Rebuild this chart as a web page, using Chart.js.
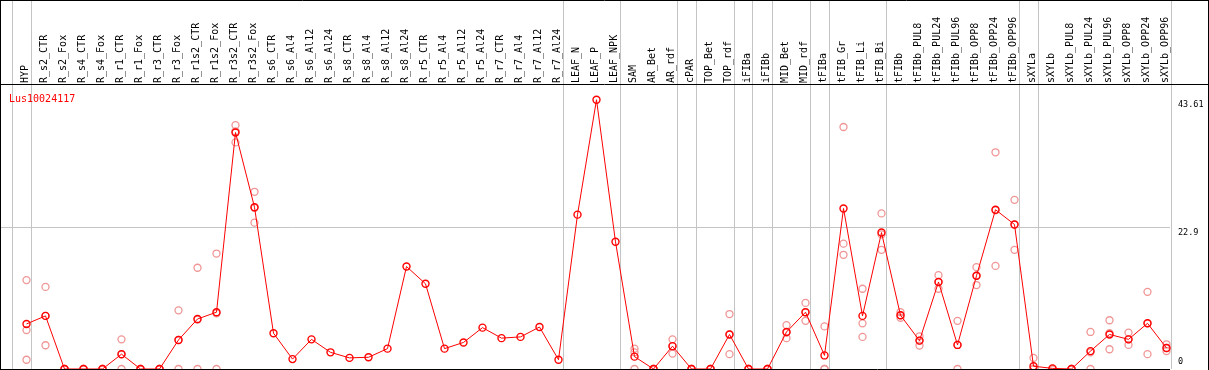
<!DOCTYPE html>
<html>
<head>
<meta charset="utf-8">
<script src="https://cdn.jsdelivr.net/npm/chart.js@4/dist/chart.umd.min.js"></script>
<style>
  html, body { margin: 0; padding: 0; background: #fff; }
  #wrap { width: 1209px; height: 370px; position: relative; }
</style>
</head>
<body>
<div id="wrap"><canvas id="c" width="1209" height="370"></canvas></div>
<script>
const chartTitle = 'Lus10024117';

const categories = [
  'HYP','R_s2_CTR','R_s2_Fox','R_s4_CTR','R_s4_Fox','R_r1_CTR','R_r1_Fox','R_r3_CTR','R_r3_Fox',
  'R_r1s2_CTR','R_r1s2_Fox','R_r3s2_CTR','R_r3s2_Fox','R_s6_CTR','R_s6_Al4','R_s6_Al12','R_s6_Al24',
  'R_s8_CTR','R_s8_Al4','R_s8_Al12','R_s8_Al24','R_r5_CTR','R_r5_Al4','R_r5_Al12','R_r5_Al24',
  'R_r7_CTR','R_r7_Al4','R_r7_Al12','R_r7_Al24','LEAF_N','LEAF_P','LEAF_NPK','SAM','AR_Bet','AR_rdf',
  'cPAR','TOP_Bet','TOP_rdf','iFIBa','iFIBb','MID_Bet','MID_rdf','tFIBa','tFIB_Gr','tFIB_Li','tFIB_Bi',
  'tFIBb','tFIBb_PUL8','tFIBb_PUL24','tFIBb_PUL96','tFIBb_OPP8','tFIBb_OPP24','tFIBb_OPP96',
  'sXYLa','sXYLb','sXYLb_PUL8','sXYLb_PUL24','sXYLb_PUL96','sXYLb_OPP8','sXYLb_OPP24','sXYLb_OPP96'
];

// index of the last category of each group (-1 = before the first one)
const groupEnds = [-1, 0, 28, 31, 34, 35, 37, 38, 39, 41, 42, 45, 52, 53, 60];

const meanValues = [
  7.3, 8.6, 0, 0, 0, 2.4, 0, 0, 4.7,
  8.1, 9.2, 38.3, 26.2, 5.8, 1.6, 4.8, 2.7,
  1.8, 1.9, 3.3, 16.6, 13.8, 3.3, 4.3, 6.7,
  5.0, 5.2, 6.8, 1.5, 25.0, 43.61, 20.6, 2.0, 0, 3.7,
  0, 0, 5.6, 0, 0, 6.0, 9.2, 2.2, 26.0, 8.6, 22.1,
  8.7, 4.6, 14.1, 3.9, 15.1, 25.8, 23.4,
  0.45, 0.1, 0, 2.9, 5.6, 4.8, 7.4, 3.4
];

const rep1 = [
  14.4, 13.3, 0, 0, 0, 4.8, 0, 0, 9.5,
  16.4, 18.7, 39.5, 28.7, null, null, null, null,
  null, null, null, null, null, null, null, null,
  null, null, null, null, null, null, null, 3.3, 0, 4.8,
  0, 0, 8.9, 0, 0, 7.1, 10.7, 6.9, 39.2, 13.0, 25.2,
  9.2, 5.3, 15.2, 7.8, 16.5, 35.1, 27.4,
  1.8, 0, 0, 6.0, 7.9, 5.9, 12.5, 4.0
];
const rep2 = [
  6.3, 3.85, 0, 0, 0, 0, 0, 0, 0,
  0, 0, 36.7, 23.7, null, null, null, null,
  null, null, null, null, null, null, null, null,
  null, null, null, null, null, null, null, 2.7, 0, 2.5,
  0, 0, 2.4, 0, 0, 5.0, 7.8, 0, 20.3, 7.4, 19.3,
  8.7, 3.8, 13.0, 0, 13.6, 16.7, 19.3,
  0, 0, 0, 0, 3.2, 3.9, 2.4, 2.9
];
const rep3 = [
  1.5, 8.6, 0, 0, 0, 2.4, 0, 0, 4.7,
  8.0, 9.0, 38.5, 26.1, null, null, null, null,
  null, null, null, null, null, null, null, null,
  null, null, null, null, null, null, null, 0, 0, 3.7,
  0, 0, 5.6, 0, 0, 5.9, 9.2, 0, 18.5, 5.2, 21.8,
  8.3, 4.6, 14.1, 3.9, 15.1, 25.7, 23.4,
  0, 0, 0, 2.7, 5.8, 4.8, 7.4, 3.4
];

const yTickValues = [0, 22.9, 43.61];

const MONO = "'DejaVu Sans Mono', 'Liberation Mono', monospace";
const RED = '#ff0000';
const PINK = '#f09595';
const GRID = '#c4c4c4';

const toPoints = arr => arr.map((v, i) => ({ x: i, y: v }));

const repDataset = (arr) => ({
  data: toPoints(arr),
  showLine: false,
  borderColor: PINK,
  backgroundColor: 'rgba(0,0,0,0)',
  pointRadius: 3.5,
  pointBorderWidth: 1.3,
  pointHoverRadius: 3.5,
  order: 2,
  clip: false
});

const framePlugin = {
  id: 'frame',
  beforeDatasetsDraw(chart) {
    const { ctx, chartArea: a, scales: { x } } = chart;
    ctx.save();
    ctx.strokeStyle = GRID;
    ctx.lineWidth = 1;
    groupEnds.forEach(i => {
      const px = Math.round(x.getPixelForValue(i) + 4) + 0.5;
      ctx.beginPath();
      ctx.moveTo(px, 0);
      ctx.lineTo(px, a.bottom);
      ctx.stroke();
    });
    ctx.restore();
  },
  afterDraw(chart) {
    const { ctx, chartArea: a, scales: { y }, width, height } = chart;
    ctx.save();
    ctx.strokeStyle = '#000';
    ctx.lineWidth = 1;
    ctx.beginPath();
    ctx.moveTo(0, 0.5); ctx.lineTo(width, 0.5);
    ctx.moveTo(0.5, 0); ctx.lineTo(0.5, height);
    ctx.moveTo(width - 0.5, 0); ctx.lineTo(width - 0.5, height);
    ctx.moveTo(0, a.top - 0.5); ctx.lineTo(width, a.top - 0.5);
    ctx.moveTo(0, a.bottom + 0.5); ctx.lineTo(a.right, a.bottom + 0.5);
    ctx.stroke();

    // title inside the plot
    ctx.fillStyle = RED;
    ctx.font = '10px ' + MONO;
    ctx.textAlign = 'left';
    ctx.textBaseline = 'alphabetic';
    ctx.fillText(chartTitle, a.left + 9, a.top + 17);

    // right axis labels
    ctx.fillStyle = '#000';
    ctx.font = '8.5px ' + MONO;
    ctx.textBaseline = 'middle';
    yTickValues.forEach(v => {
      const py = Math.min(y.getPixelForValue(v) + 5, a.bottom - 7);
      ctx.fillText(String(v), a.right + 8, py);
    });
    ctx.restore();
  }
};

new Chart(document.getElementById('c'), {
  type: 'scatter',
  data: {
    datasets: [
      {
        data: toPoints(meanValues),
        showLine: true,
        borderColor: RED,
        borderWidth: 1,
        backgroundColor: 'rgba(0,0,0,0)',
        pointBorderColor: RED,
        pointRadius: 3.5,
        pointBorderWidth: 1.4,
        pointHoverRadius: 3.5,
        tension: 0,
        order: 1,
        clip: false
      },
      repDataset(rep1),
      repDataset(rep2),
      repDataset(rep3)
    ]
  },
  options: {
    responsive: false,
    animation: false,
    devicePixelRatio: 1,
    layout: { autoPadding: false, padding: { left: 0, right: 0, top: 0, bottom: 1 } },
    plugins: { legend: { display: false }, title: { display: false }, tooltip: { enabled: false } },
    events: [],
    scales: {
      x: {
        type: 'linear',
        position: 'top',
        min: -26.5 / 19,
        max: (1170 - 26.5) / 19,
        afterBuildTicks: s => { s.ticks = categories.map((c, i) => ({ value: i })); },
        afterFit: s => { s.height = 85; },
        grid: { display: false, drawTicks: false },
        border: { display: false },
        ticks: {
          autoSkip: false,
          minRotation: 90,
          maxRotation: 90,
          padding: 2,
          labelOffset: 11,
          color: '#000',
          font: { family: MONO, size: 10 },
          callback: (v) => categories[v]
        }
      },
      y: {
        type: 'linear',
        position: 'right',
        min: 0,
        max: 46,
        afterBuildTicks: s => { s.ticks = yTickValues.map(v => ({ value: v })); },
        afterFit: s => { s.width = 39; },
        grid: {
          drawTicks: false,
          color: c => (c.tick && c.tick.value > 0 && c.tick.value < 40) ? GRID : 'rgba(0,0,0,0)'
        },
        border: { display: false },
        ticks: { display: false }
      }
    }
  },
  plugins: [framePlugin]
});
</script>
</body>
</html>
